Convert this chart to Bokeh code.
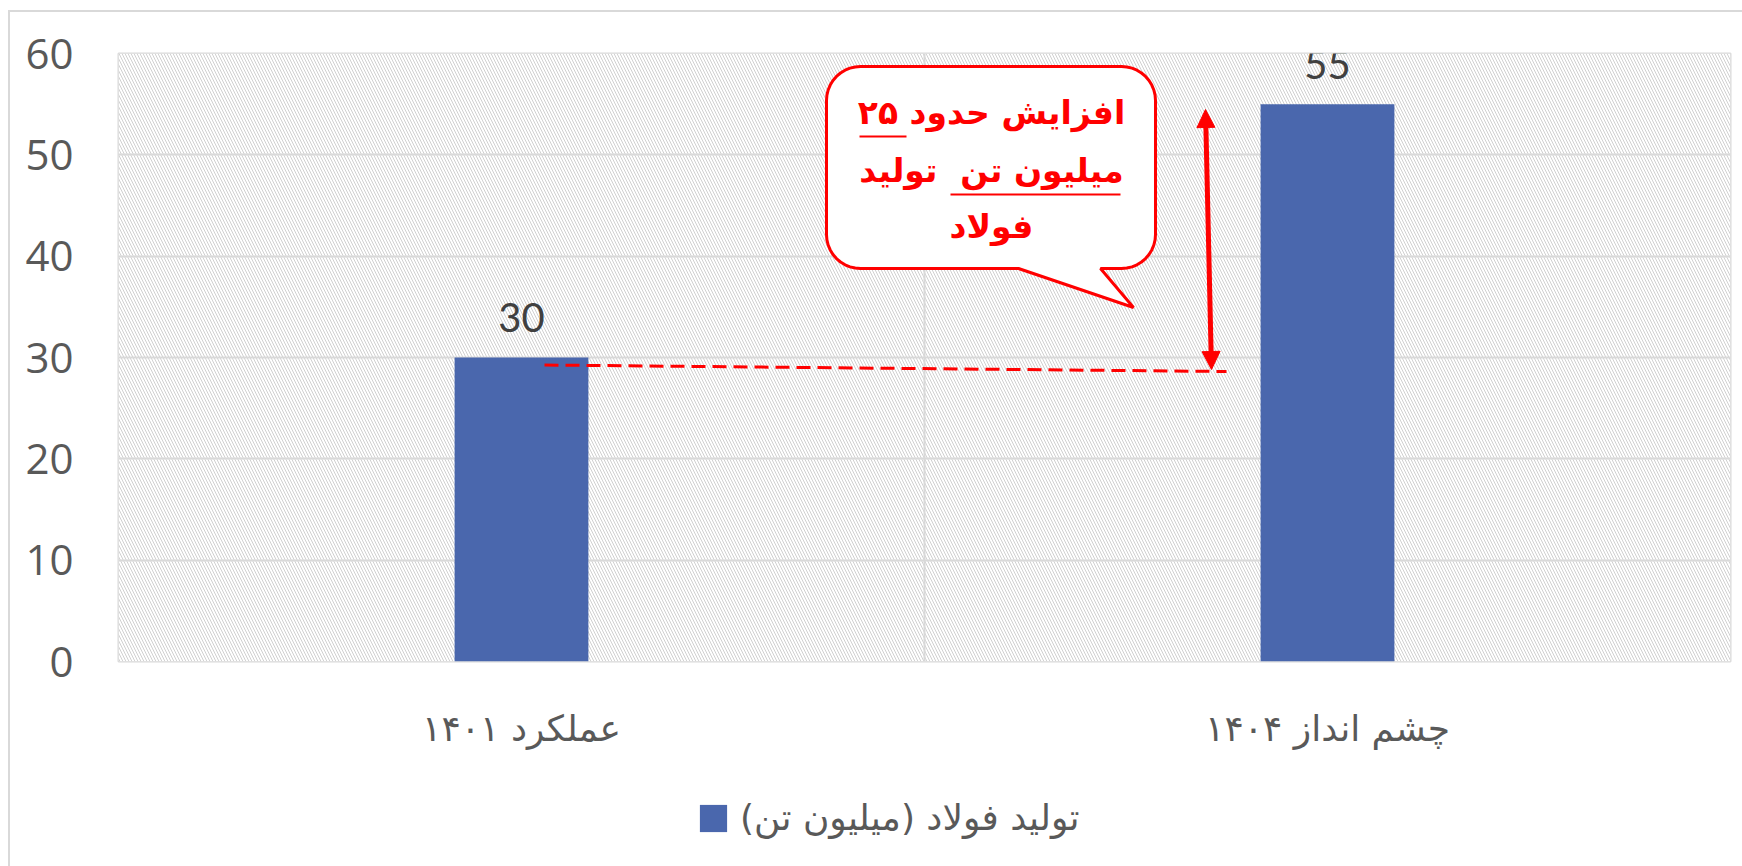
import math
from bokeh.plotting import figure
from bokeh.layouts import column
from bokeh.models import (Range1d, FixedTicker, BoxAnnotation, Legend, LegendItem,
                          Arrow, NormalHead, ColumnDataSource, InlineStyleSheet)
from bokeh.core.properties import value
from bokeh.embed import file_html
from bokeh.resources import INLINE

# ---------------- data ----------------
categories = ["عملکرد ۱۴۰۱", "چشم انداز ۱۴۰۴"]
steel_production = [30, 55]
series_name = "تولید فولاد (میلیون تن)"
y_ticks = [0, 10, 20, 30, 40, 50, 60]
callout_lines = ["افزایش حدود ۲۵", "میلیون تن\u00a0 تولید", "فولاد"]

# ---------------- layout constants ----------------
W, H = 1742, 866
H1 = 770                                      # main figure height, legend strip below
FL, FR, FT, FB = 118, 1730, 53, 661          # frame edges inside the main figure
X_MAX, Y_MAX = 2.0, 60.0
PX_X = (FR - FL) / X_MAX
PX_Y = (FB - FT) / Y_MAX

def dx(px):
    return (px - FL) / PX_X

def dy(py):
    return (FB - py) / PX_Y

GREY_GRID = "#d9d9d9"
BAR = "#4a67ad"
RED = "#ff0000"

p = figure(width=W, height=H1, output_backend="svg", toolbar_location=None,
           x_range=Range1d(0, X_MAX), y_range=Range1d(0, Y_MAX),
           min_border_left=FL, min_border_right=W - FR,
           min_border_top=FT, min_border_bottom=H1 - FB)
p.background_fill_color = "white"
p.border_fill_color = "white"
p.outline_line_color = GREY_GRID
p.outline_line_width = 2

# hatched plot area
hatch = BoxAnnotation(fill_color="white", fill_alpha=1.0, line_color=None,
                      hatch_pattern="\\", hatch_color="#d0d0d0", hatch_alpha=1.0,
                      hatch_scale=6, hatch_weight=1, level="image")
p.add_layout(hatch)

# grids
p.ygrid.ticker = FixedTicker(ticks=y_ticks)
p.ygrid.grid_line_color = GREY_GRID
p.ygrid.grid_line_width = 2
p.xgrid.ticker = FixedTicker(ticks=[1.0])
p.xgrid.grid_line_color = GREY_GRID
p.xgrid.grid_line_width = 2

# axes
xs = [i + 0.5 for i in range(len(categories))]
p.xaxis.ticker = FixedTicker(ticks=xs)
p.xaxis.major_label_overrides = {x: c for x, c in zip(xs, categories)}
p.xaxis.axis_line_color = None
p.xaxis.major_tick_line_color = None
p.xaxis.minor_tick_line_color = None
p.xaxis.major_tick_out = 0
p.xaxis.major_label_standoff = 46
p.xaxis.major_label_text_font = "DejaVu Sans"
p.xaxis.major_label_text_font_size = "36px"
p.xaxis.major_label_text_color = "#595959"

p.yaxis.ticker = FixedTicker(ticks=y_ticks)
p.yaxis.axis_line_color = None
p.yaxis.major_tick_line_color = None
p.yaxis.minor_tick_line_color = None
p.yaxis.major_tick_out = 0
p.yaxis.major_label_standoff = 45
p.yaxis.major_label_text_font = "Open Sans"
p.yaxis.major_label_text_font_size = "42px"
p.yaxis.major_label_text_color = "#595959"

# bars
src = ColumnDataSource(dict(x=xs, top=steel_production,
                            label=[str(v) for v in steel_production]))
bars = p.vbar(x="x", top="top", bottom=0, width=0.166, source=src,
              fill_color=BAR, line_color=None)
p.text(x="x", y="top", text="label", source=src, y_offset=-40,
       text_align="center", text_baseline="middle",
       text_font=value("Lato"), text_font_size="40px", text_color="#404040")

# dashed reference line at the 1401 level
p.segment(x0=dx(544), y0=dy(364.5), x1=dx(1226), y1=dy(371),
          line_color=RED, line_width=3, line_dash="14 7")

# double-headed arrow
p.add_layout(Arrow(x_start=dx(1211), y_start=dy(369), x_end=dx(1205), y_end=dy(109),
                   line_color=RED, line_width=5,
                   start=NormalHead(size=18, fill_color=RED, line_color=RED),
                   end=NormalHead(size=18, fill_color=RED, line_color=RED)))

# speech-bubble callout
def callout(l, t, r, b, rad, tail_l, tail_r, tip):
    pts = []
    def arc(cx, cy, a0, a1, n=10):
        for k in range(n + 1):
            a = math.radians(a0 + (a1 - a0) * k / n)
            pts.append((cx + rad * math.cos(a), cy + rad * math.sin(a)))
    arc(r - rad, t + rad, -90, 0)
    arc(r - rad, b - rad, 0, 90)
    pts.append((tail_r, b))
    pts.append(tip)
    pts.append((tail_l, b))
    arc(l + rad, b - rad, 90, 180)
    arc(l + rad, t + rad, 180, 270)
    return [dx(a) for a, _ in pts], [dy(c) for _, c in pts]

cx_, cy_ = callout(826, 66, 1155, 268, 34, 1018, 1100, (1133, 307))
p.patch(cx_, cy_, fill_color="white", line_color=RED, line_width=3)

line_y = [112, 170, 226]
p.text(x=[dx(991)] * 3, y=[dy(v) for v in line_y], text=callout_lines,
       text_align="center", text_baseline="middle",
       text_font=value("DejaVu Sans"), text_font_style="bold",
       text_font_size="33px", text_color=RED)
# underlines
p.segment(x0=[dx(859), dx(950)], y0=[dy(136), dy(194)],
          x1=[dx(906), dx(1120)], y1=[dy(136), dy(194)],
          line_color=RED, line_width=2)

# ---------------- legend strip ----------------
H2 = H - H1
p2 = figure(width=W, height=H2, output_backend="svg", toolbar_location=None,
            x_range=Range1d(0, 10), y_range=Range1d(0, 10),
            min_border=0, x_axis_type=None, y_axis_type=None)
p2.grid.visible = False
p2.outline_line_color = None
p2.background_fill_color = "white"
p2.border_fill_color = "white"
# proxy renderer for the legend key (kept outside the visible range)
key = p2.vbar(x=[-50], top=[-40], bottom=-50, width=1, fill_color=BAR, line_color=None)
legend = Legend(items=[LegendItem(label=series_name, renderers=[key])],
                orientation="horizontal", location=(696 - FL, 96 - 33 - 27 - 8),
                glyph_width=34, glyph_height=34, label_standoff=10,
                label_text_font="DejaVu Sans", label_text_font_size="36px",
                label_text_color="#595959", border_line_color=None,
                background_fill_alpha=0, padding=0, margin=0)
p2.add_layout(legend)

layout = column(p, p2, spacing=0)
# outer chart-area border (top/left visible, as in the reference)
layout.stylesheets = [InlineStyleSheet(css=(
    ":host { position: relative; }"
    ":host::after { content: ''; position: absolute; left: 8px; top: 10px; "
    "width: 2000px; height: 2000px; border: 2px solid #d9d9d9; "
    "pointer-events: none; box-sizing: border-box; }"))]

open("out.html", "w").write(file_html(layout, INLINE))
